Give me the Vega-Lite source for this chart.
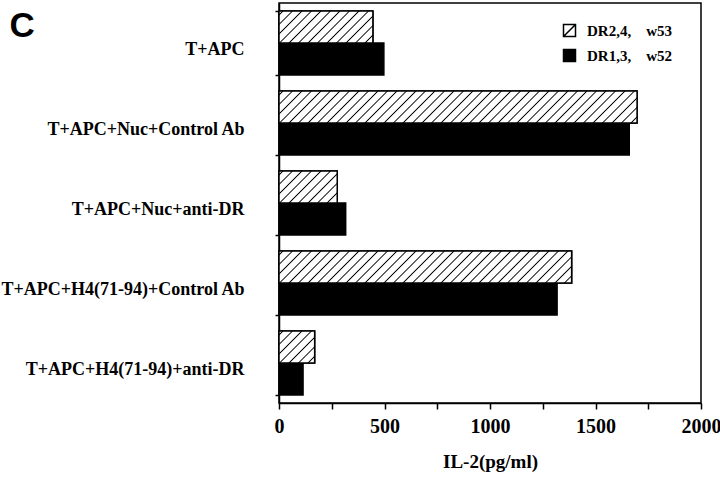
{
"$schema": "https://vega.github.io/schema/vega-lite/v6.json",
"width": 422, "height": 400,
"autosize": {"type": "none"},
"padding": {"left": 279, "top": 3, "right": 19, "bottom": 89},
"background": "white",
"config": {"view": {"stroke": "black", "strokeWidth": 1.5}},
"data": {"values": [
 {"cat": "T+APC", "series": "DR2,4,\u00a0\u00a0\u00a0\u00a0w53", "value": 445},
 {"cat": "T+APC", "series": "DR1,3,\u00a0\u00a0\u00a0\u00a0w52", "value": 497},
 {"cat": "T+APC+Nuc+Control Ab", "series": "DR2,4,\u00a0\u00a0\u00a0\u00a0w53", "value": 1697},
 {"cat": "T+APC+Nuc+Control Ab", "series": "DR1,3,\u00a0\u00a0\u00a0\u00a0w52", "value": 1660},
 {"cat": "T+APC+Nuc+anti-DR", "series": "DR2,4,\u00a0\u00a0\u00a0\u00a0w53", "value": 276},
 {"cat": "T+APC+Nuc+anti-DR", "series": "DR1,3,\u00a0\u00a0\u00a0\u00a0w52", "value": 316},
 {"cat": "T+APC+H4(71-94)+Control Ab", "series": "DR2,4,\u00a0\u00a0\u00a0\u00a0w53", "value": 1387},
 {"cat": "T+APC+H4(71-94)+Control Ab", "series": "DR1,3,\u00a0\u00a0\u00a0\u00a0w52", "value": 1318},
 {"cat": "T+APC+H4(71-94)+anti-DR", "series": "DR2,4,\u00a0\u00a0\u00a0\u00a0w53", "value": 169},
 {"cat": "T+APC+H4(71-94)+anti-DR", "series": "DR1,3,\u00a0\u00a0\u00a0\u00a0w52", "value": 114}
]},
"encoding": {
 "y": {"field": "cat", "type": "nominal",
  "sort": ["T+APC", "T+APC+Nuc+Control Ab", "T+APC+Nuc+anti-DR", "T+APC+H4(71-94)+Control Ab", "T+APC+H4(71-94)+anti-DR"],
  "scale": {"domain": ["T+APC", "T+APC+Nuc+Control Ab", "T+APC+Nuc+anti-DR", "T+APC+H4(71-94)+Control Ab", "T+APC+H4(71-94)+anti-DR"], "paddingInner": 0.2, "paddingOuter": 0.1},
  "axis": {"title": "C", "titleAngle": 0, "titleAlign": "left", "titleBaseline": "top", "titleX": -270, "titleY": 5,
   "titleFont": "Liberation Sans", "titleFontWeight": "bold", "titleFontSize": 35, "titleColor": "black",
   "tickBand": "extent", "tickSize": 4, "tickWidth": 1.5, "tickColor": "black", "domainColor": "black", "domainWidth": 1.5,
   "labelFont": "Liberation Serif", "labelFontWeight": "bold", "labelFontSize": 18, "labelColor": "black", "labelPadding": 31, "labelOffset": 6, "labelLimit": 300}},
 "yOffset": {"field": "series", "type": "nominal", "scale": {"domain": ["DR2,4,\u00a0\u00a0\u00a0\u00a0w53", "DR1,3,\u00a0\u00a0\u00a0\u00a0w52"], "paddingInner": 0, "paddingOuter": 0}},
 "x": {"field": "value", "type": "quantitative", "scale": {"domain": [0, 2000], "nice": false},
  "axis": {"title": "IL-2(pg/ml)", "values": [0, 250, 500, 750, 1000, 1250, 1500, 1750, 2000], "format": "d",
   "labelExpr": "datum.value % 500 === 0 ? datum.label : ''", "labelOverlap": false, "labelFlush": false, "grid": false,
   "tickSize": 6, "tickWidth": 1.5, "tickColor": "black", "domainColor": "black", "domainWidth": 1.5,
   "labelFont": "Liberation Serif", "labelFontWeight": "bold", "labelFontSize": 20, "labelColor": "black", "labelPadding": 7,
   "titleFont": "Liberation Serif", "titleFontWeight": "bold", "titleFontSize": 19, "titleColor": "black", "titlePadding": 16}}
},
"layer": [
 {"mark": {"type": "bar", "stroke": "black", "strokeWidth": 1.5},
  "encoding": {"fill": {"field": "series", "type": "nominal",
   "scale": {"domain": ["DR2,4,\u00a0\u00a0\u00a0\u00a0w53", "DR1,3,\u00a0\u00a0\u00a0\u00a0w52"], "range": ["white", "black"]},
   "legend": {"title": null, "orient": "none", "legendX": 283, "legendY": 20, "symbolType": "M-1,-1H1V1H-1ZM-1,1L1,-1", "symbolSize": 144,
    "symbolStrokeColor": "black", "symbolStrokeWidth": 1.5, "labelFont": "Liberation Serif", "labelFontWeight": "bold", "labelFontSize": 15,
    "labelColor": "black", "labelOffset": 10, "rowPadding": 6, "labelLimit": 300,
    "encode": {"symbols": {"update": {"stroke": {"value": "black"}, "strokeWidth": {"value": 1.5}}}}}}}},
 {"transform": [{"filter": "datum.cat === 'T+APC' && indexof(datum.series,'w53') >= 0"}],
  "mark": {"type": "bar", "stroke": "black", "strokeWidth": 1.5, "fill": {"gradient": "linear", "x1": 0, "y1": 0, "x2": 1.2013, "y2": 0.4094, "stops": [
{"offset":0.0215,"color":"#fff"},{"offset":0.0318,"color":"#000"},{"offset":0.0421,"color":"#fff"},
{"offset":0.0969,"color":"#fff"},{"offset":0.1072,"color":"#000"},{"offset":0.1175,"color":"#fff"},
{"offset":0.1724,"color":"#fff"},{"offset":0.1827,"color":"#000"},{"offset":0.1930,"color":"#fff"},
{"offset":0.2478,"color":"#fff"},{"offset":0.2581,"color":"#000"},{"offset":0.2684,"color":"#fff"},
{"offset":0.3233,"color":"#fff"},{"offset":0.3336,"color":"#000"},{"offset":0.3439,"color":"#fff"},
{"offset":0.3988,"color":"#fff"},{"offset":0.4091,"color":"#000"},{"offset":0.4194,"color":"#fff"},
{"offset":0.4742,"color":"#fff"},{"offset":0.4845,"color":"#000"},{"offset":0.4948,"color":"#fff"},
{"offset":0.5497,"color":"#fff"},{"offset":0.5600,"color":"#000"},{"offset":0.5703,"color":"#fff"},
{"offset":0.6251,"color":"#fff"},{"offset":0.6354,"color":"#000"},{"offset":0.6457,"color":"#fff"},
{"offset":0.7006,"color":"#fff"},{"offset":0.7109,"color":"#000"},{"offset":0.7212,"color":"#fff"},
{"offset":0.7760,"color":"#fff"},{"offset":0.7863,"color":"#000"},{"offset":0.7966,"color":"#fff"},
{"offset":0.8515,"color":"#fff"},{"offset":0.8618,"color":"#000"},{"offset":0.8721,"color":"#fff"},
{"offset":0.9269,"color":"#fff"},{"offset":0.9372,"color":"#000"},{"offset":0.9475,"color":"#fff"}
  ]}}},
 {"transform": [{"filter": "datum.cat === 'T+APC+Nuc+Control Ab' && indexof(datum.series,'w53') >= 0"}],
  "mark": {"type": "bar", "stroke": "black", "strokeWidth": 1.5, "fill": {"gradient": "linear", "x1": 0, "y1": 0, "x2": 1.0807, "y2": 0.0966, "stops": [
{"offset":0.0070,"color":"#fff"},{"offset":0.0103,"color":"#000"},{"offset":0.0136,"color":"#fff"},
{"offset":0.0313,"color":"#fff"},{"offset":0.0346,"color":"#000"},{"offset":0.0379,"color":"#fff"},
{"offset":0.0557,"color":"#fff"},{"offset":0.0590,"color":"#000"},{"offset":0.0623,"color":"#fff"},
{"offset":0.0800,"color":"#fff"},{"offset":0.0833,"color":"#000"},{"offset":0.0866,"color":"#fff"},
{"offset":0.1044,"color":"#fff"},{"offset":0.1077,"color":"#000"},{"offset":0.1110,"color":"#fff"},
{"offset":0.1287,"color":"#fff"},{"offset":0.1320,"color":"#000"},{"offset":0.1353,"color":"#fff"},
{"offset":0.1531,"color":"#fff"},{"offset":0.1564,"color":"#000"},{"offset":0.1597,"color":"#fff"},
{"offset":0.1774,"color":"#fff"},{"offset":0.1807,"color":"#000"},{"offset":0.1840,"color":"#fff"},
{"offset":0.2018,"color":"#fff"},{"offset":0.2051,"color":"#000"},{"offset":0.2084,"color":"#fff"},
{"offset":0.2261,"color":"#fff"},{"offset":0.2294,"color":"#000"},{"offset":0.2327,"color":"#fff"},
{"offset":0.2505,"color":"#fff"},{"offset":0.2538,"color":"#000"},{"offset":0.2571,"color":"#fff"},
{"offset":0.2748,"color":"#fff"},{"offset":0.2781,"color":"#000"},{"offset":0.2814,"color":"#fff"},
{"offset":0.2992,"color":"#fff"},{"offset":0.3025,"color":"#000"},{"offset":0.3058,"color":"#fff"},
{"offset":0.3235,"color":"#fff"},{"offset":0.3268,"color":"#000"},{"offset":0.3301,"color":"#fff"},
{"offset":0.3479,"color":"#fff"},{"offset":0.3512,"color":"#000"},{"offset":0.3545,"color":"#fff"},
{"offset":0.3722,"color":"#fff"},{"offset":0.3755,"color":"#000"},{"offset":0.3788,"color":"#fff"},
{"offset":0.3966,"color":"#fff"},{"offset":0.3999,"color":"#000"},{"offset":0.4032,"color":"#fff"},
{"offset":0.4210,"color":"#fff"},{"offset":0.4243,"color":"#000"},{"offset":0.4276,"color":"#fff"},
{"offset":0.4453,"color":"#fff"},{"offset":0.4486,"color":"#000"},{"offset":0.4519,"color":"#fff"},
{"offset":0.4697,"color":"#fff"},{"offset":0.4730,"color":"#000"},{"offset":0.4763,"color":"#fff"},
{"offset":0.4940,"color":"#fff"},{"offset":0.4973,"color":"#000"},{"offset":0.5006,"color":"#fff"},
{"offset":0.5184,"color":"#fff"},{"offset":0.5217,"color":"#000"},{"offset":0.5250,"color":"#fff"},
{"offset":0.5427,"color":"#fff"},{"offset":0.5460,"color":"#000"},{"offset":0.5493,"color":"#fff"},
{"offset":0.5671,"color":"#fff"},{"offset":0.5704,"color":"#000"},{"offset":0.5737,"color":"#fff"},
{"offset":0.5914,"color":"#fff"},{"offset":0.5947,"color":"#000"},{"offset":0.5980,"color":"#fff"},
{"offset":0.6158,"color":"#fff"},{"offset":0.6191,"color":"#000"},{"offset":0.6224,"color":"#fff"},
{"offset":0.6401,"color":"#fff"},{"offset":0.6434,"color":"#000"},{"offset":0.6467,"color":"#fff"},
{"offset":0.6645,"color":"#fff"},{"offset":0.6678,"color":"#000"},{"offset":0.6711,"color":"#fff"},
{"offset":0.6888,"color":"#fff"},{"offset":0.6921,"color":"#000"},{"offset":0.6954,"color":"#fff"},
{"offset":0.7132,"color":"#fff"},{"offset":0.7165,"color":"#000"},{"offset":0.7198,"color":"#fff"},
{"offset":0.7375,"color":"#fff"},{"offset":0.7408,"color":"#000"},{"offset":0.7441,"color":"#fff"},
{"offset":0.7619,"color":"#fff"},{"offset":0.7652,"color":"#000"},{"offset":0.7685,"color":"#fff"},
{"offset":0.7863,"color":"#fff"},{"offset":0.7896,"color":"#000"},{"offset":0.7929,"color":"#fff"},
{"offset":0.8106,"color":"#fff"},{"offset":0.8139,"color":"#000"},{"offset":0.8172,"color":"#fff"},
{"offset":0.8350,"color":"#fff"},{"offset":0.8383,"color":"#000"},{"offset":0.8416,"color":"#fff"},
{"offset":0.8593,"color":"#fff"},{"offset":0.8626,"color":"#000"},{"offset":0.8659,"color":"#fff"},
{"offset":0.8837,"color":"#fff"},{"offset":0.8870,"color":"#000"},{"offset":0.8903,"color":"#fff"},
{"offset":0.9080,"color":"#fff"},{"offset":0.9113,"color":"#000"},{"offset":0.9146,"color":"#fff"},
{"offset":0.9324,"color":"#fff"},{"offset":0.9357,"color":"#000"},{"offset":0.9390,"color":"#fff"},
{"offset":0.9567,"color":"#fff"},{"offset":0.9600,"color":"#000"},{"offset":0.9633,"color":"#fff"},
{"offset":0.9811,"color":"#fff"},{"offset":0.9844,"color":"#000"},{"offset":0.9877,"color":"#fff"}
  ]}}},
 {"transform": [{"filter": "datum.cat === 'T+APC+Nuc+anti-DR' && indexof(datum.series,'w53') >= 0"}],
  "mark": {"type": "bar", "stroke": "black", "strokeWidth": 1.5, "fill": {"gradient": "linear", "x1": 0, "y1": 0, "x2": 1.1901, "y2": 0.6543, "stops": [
{"offset":0.0299,"color":"#fff"},{"offset":0.0443,"color":"#000"},{"offset":0.0587,"color":"#fff"},
{"offset":0.1353,"color":"#fff"},{"offset":0.1497,"color":"#000"},{"offset":0.1641,"color":"#fff"},
{"offset":0.2406,"color":"#fff"},{"offset":0.2550,"color":"#000"},{"offset":0.2694,"color":"#fff"},
{"offset":0.3459,"color":"#fff"},{"offset":0.3603,"color":"#000"},{"offset":0.3747,"color":"#fff"},
{"offset":0.4512,"color":"#fff"},{"offset":0.4656,"color":"#000"},{"offset":0.4800,"color":"#fff"},
{"offset":0.5565,"color":"#fff"},{"offset":0.5709,"color":"#000"},{"offset":0.5853,"color":"#fff"},
{"offset":0.6619,"color":"#fff"},{"offset":0.6763,"color":"#000"},{"offset":0.6907,"color":"#fff"},
{"offset":0.7672,"color":"#fff"},{"offset":0.7816,"color":"#000"},{"offset":0.7960,"color":"#fff"},
{"offset":0.8725,"color":"#fff"},{"offset":0.8869,"color":"#000"},{"offset":0.9013,"color":"#fff"}
  ]}}},
 {"transform": [{"filter": "datum.cat === 'T+APC+H4(71-94)+Control Ab' && indexof(datum.series,'w53') >= 0"}],
  "mark": {"type": "bar", "stroke": "black", "strokeWidth": 1.5, "fill": {"gradient": "linear", "x1": 0, "y1": 0, "x2": 1.0962, "y2": 0.1199, "stops": [
{"offset":0.0083,"color":"#fff"},{"offset":0.0123,"color":"#000"},{"offset":0.0163,"color":"#fff"},
{"offset":0.0376,"color":"#fff"},{"offset":0.0416,"color":"#000"},{"offset":0.0456,"color":"#fff"},
{"offset":0.0668,"color":"#fff"},{"offset":0.0708,"color":"#000"},{"offset":0.0748,"color":"#fff"},
{"offset":0.0961,"color":"#fff"},{"offset":0.1001,"color":"#000"},{"offset":0.1041,"color":"#fff"},
{"offset":0.1254,"color":"#fff"},{"offset":0.1294,"color":"#000"},{"offset":0.1334,"color":"#fff"},
{"offset":0.1546,"color":"#fff"},{"offset":0.1586,"color":"#000"},{"offset":0.1626,"color":"#fff"},
{"offset":0.1839,"color":"#fff"},{"offset":0.1879,"color":"#000"},{"offset":0.1919,"color":"#fff"},
{"offset":0.2131,"color":"#fff"},{"offset":0.2171,"color":"#000"},{"offset":0.2211,"color":"#fff"},
{"offset":0.2424,"color":"#fff"},{"offset":0.2464,"color":"#000"},{"offset":0.2504,"color":"#fff"},
{"offset":0.2716,"color":"#fff"},{"offset":0.2756,"color":"#000"},{"offset":0.2796,"color":"#fff"},
{"offset":0.3009,"color":"#fff"},{"offset":0.3049,"color":"#000"},{"offset":0.3089,"color":"#fff"},
{"offset":0.3302,"color":"#fff"},{"offset":0.3342,"color":"#000"},{"offset":0.3382,"color":"#fff"},
{"offset":0.3594,"color":"#fff"},{"offset":0.3634,"color":"#000"},{"offset":0.3674,"color":"#fff"},
{"offset":0.3887,"color":"#fff"},{"offset":0.3927,"color":"#000"},{"offset":0.3967,"color":"#fff"},
{"offset":0.4179,"color":"#fff"},{"offset":0.4219,"color":"#000"},{"offset":0.4259,"color":"#fff"},
{"offset":0.4472,"color":"#fff"},{"offset":0.4512,"color":"#000"},{"offset":0.4552,"color":"#fff"},
{"offset":0.4764,"color":"#fff"},{"offset":0.4804,"color":"#000"},{"offset":0.4844,"color":"#fff"},
{"offset":0.5057,"color":"#fff"},{"offset":0.5097,"color":"#000"},{"offset":0.5137,"color":"#fff"},
{"offset":0.5350,"color":"#fff"},{"offset":0.5390,"color":"#000"},{"offset":0.5430,"color":"#fff"},
{"offset":0.5642,"color":"#fff"},{"offset":0.5682,"color":"#000"},{"offset":0.5722,"color":"#fff"},
{"offset":0.5935,"color":"#fff"},{"offset":0.5975,"color":"#000"},{"offset":0.6015,"color":"#fff"},
{"offset":0.6227,"color":"#fff"},{"offset":0.6267,"color":"#000"},{"offset":0.6307,"color":"#fff"},
{"offset":0.6520,"color":"#fff"},{"offset":0.6560,"color":"#000"},{"offset":0.6600,"color":"#fff"},
{"offset":0.6813,"color":"#fff"},{"offset":0.6853,"color":"#000"},{"offset":0.6893,"color":"#fff"},
{"offset":0.7105,"color":"#fff"},{"offset":0.7145,"color":"#000"},{"offset":0.7185,"color":"#fff"},
{"offset":0.7398,"color":"#fff"},{"offset":0.7438,"color":"#000"},{"offset":0.7478,"color":"#fff"},
{"offset":0.7690,"color":"#fff"},{"offset":0.7730,"color":"#000"},{"offset":0.7770,"color":"#fff"},
{"offset":0.7983,"color":"#fff"},{"offset":0.8023,"color":"#000"},{"offset":0.8063,"color":"#fff"},
{"offset":0.8275,"color":"#fff"},{"offset":0.8315,"color":"#000"},{"offset":0.8355,"color":"#fff"},
{"offset":0.8568,"color":"#fff"},{"offset":0.8608,"color":"#000"},{"offset":0.8648,"color":"#fff"},
{"offset":0.8861,"color":"#fff"},{"offset":0.8901,"color":"#000"},{"offset":0.8941,"color":"#fff"},
{"offset":0.9153,"color":"#fff"},{"offset":0.9193,"color":"#000"},{"offset":0.9233,"color":"#fff"},
{"offset":0.9446,"color":"#fff"},{"offset":0.9486,"color":"#000"},{"offset":0.9526,"color":"#fff"},
{"offset":0.9738,"color":"#fff"},{"offset":0.9778,"color":"#000"},{"offset":0.9818,"color":"#fff"}
  ]}}},
 {"transform": [{"filter": "datum.cat === 'T+APC+H4(71-94)+anti-DR' && indexof(datum.series,'w53') >= 0"}],
  "mark": {"type": "bar", "stroke": "black", "strokeWidth": 1.5, "fill": {"gradient": "linear", "x1": 0, "y1": 0, "x2": 1.0515, "y2": 0.9425, "stops": [
{"offset":0.0399,"color":"#fff"},{"offset":0.0591,"color":"#000"},{"offset":0.0783,"color":"#fff"},
{"offset":0.1802,"color":"#fff"},{"offset":0.1994,"color":"#000"},{"offset":0.2186,"color":"#fff"},
{"offset":0.3205,"color":"#fff"},{"offset":0.3397,"color":"#000"},{"offset":0.3589,"color":"#fff"},
{"offset":0.4609,"color":"#fff"},{"offset":0.4801,"color":"#000"},{"offset":0.4993,"color":"#fff"},
{"offset":0.6012,"color":"#fff"},{"offset":0.6204,"color":"#000"},{"offset":0.6396,"color":"#fff"},
{"offset":0.7415,"color":"#fff"},{"offset":0.7607,"color":"#000"},{"offset":0.7799,"color":"#fff"},
{"offset":0.8818,"color":"#fff"},{"offset":0.9010,"color":"#000"},{"offset":0.9202,"color":"#fff"}
  ]}}}
]
}
